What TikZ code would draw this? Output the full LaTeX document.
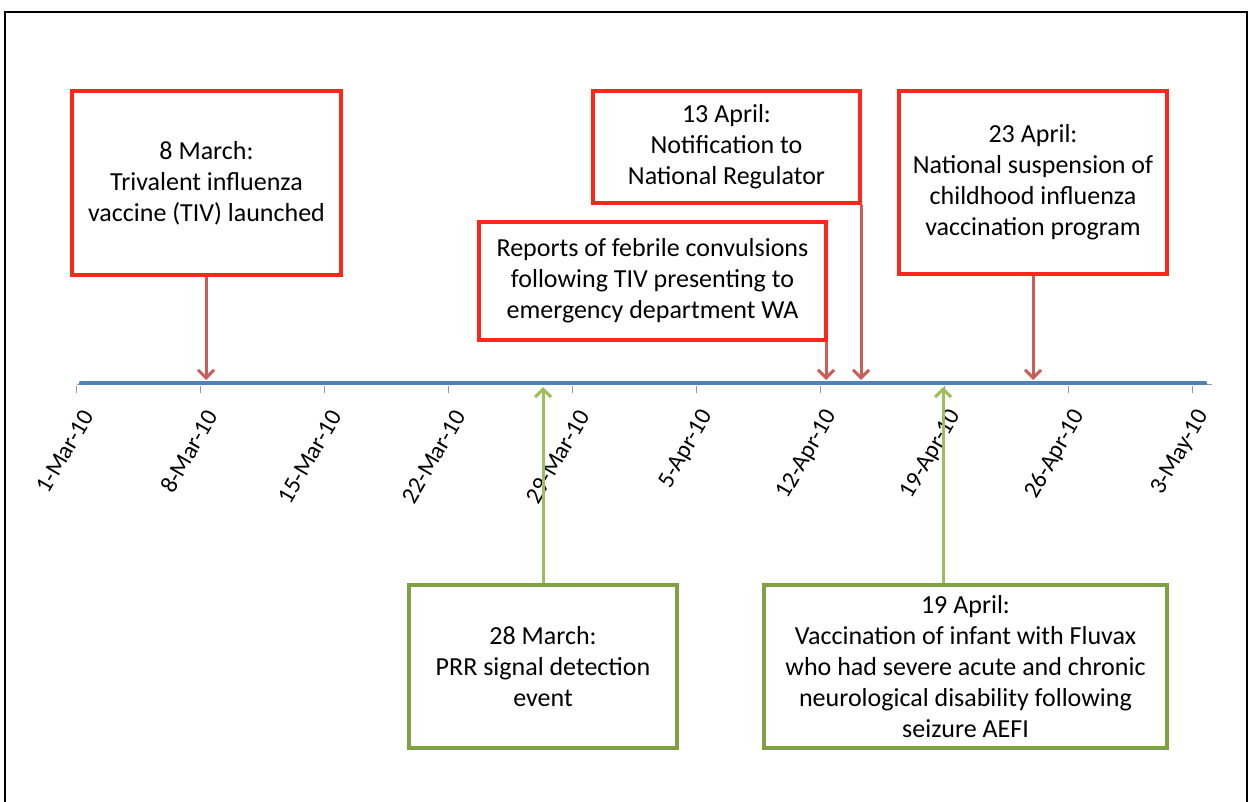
\documentclass[tikz,border=0pt]{standalone}
\usepackage{fontspec}
\setmainfont{Carlito}
\usetikzlibrary{arrows.meta}
\definecolor{boxred}{RGB}{255,38,28}
\definecolor{arrred}{RGB}{204,92,88}
\definecolor{boxgreen}{RGB}{128,160,68}
\definecolor{arrgreen}{RGB}{158,190,92}
\definecolor{axisblue}{RGB}{79,129,189}
\definecolor{tickgray}{RGB}{150,150,150}
\begin{document}
\begin{tikzpicture}[x=1pt,y=-1pt,
  evbox/.style={line width=4pt, align=center, inner sep=2pt, fill=white,
    font=\fontsize{26}{31}\selectfont},
  redbox/.style={evbox, draw=boxred},
  greenbox/.style={evbox, draw=boxgreen},
  redarr/.style={draw=arrred, line width=3pt, -{Straight Barb[length=8pt,width=16pt]}},
  greenarr/.style={draw=arrgreen, line width=3pt, -{Straight Barb[length=8pt,width=16pt]}},
  ticklabel/.style={rotate=60, anchor=east, inner sep=0pt, font=\fontsize{24}{28}\selectfont},
  tickmark/.style={draw=tickgray, line width=1.2pt}
]
\useasboundingbox (0,0) rectangle (1252,802);
\fill[white] (0,0) rectangle (1252,802);
% frame
\draw[line width=2.5pt, black] (5,802) -- (5,12) -- (1247,12) -- (1247,802);

% axis
\coordinate (axL) at (77,384);
\coordinate (axR) at (1212,384);
\draw[tickgray, line width=1pt] (axL) -- (axR);
\draw[axisblue, line width=4.5pt, line cap=round] (81,383) -- (1205,383);
\foreach \i/\lab in {0/1-Mar-10,1/8-Mar-10,2/15-Mar-10,3/22-Mar-10,4/29-Mar-10,5/5-Apr-10,6/12-Apr-10,7/19-Apr-10,8/26-Apr-10,9/3-May-10}{
  \coordinate (tk\i) at ({76.7+124*\i},385.5);
  \draw[tickmark] (tk\i) -- ++(0,7);
  \node[ticklabel] (tl\i) at ({76.7+124*\i+11},412) {\lab};
}

% boxes
\node[redbox, minimum width=269pt, minimum height=184pt] (b8) at (206.5,183) {8 March:\\Trivalent influenza\\vaccine (TIV) launched};
\node[redbox, minimum width=267pt, minimum height=112pt] (b13) at (726.5,147) {13 April:\\Notification to\\National Regulator};
\node[redbox, minimum width=347pt, minimum height=118pt] (brep) at (652.5,281) {Reports of febrile convulsions\\following TIV presenting to\\emergency department WA};
\node[redbox, minimum width=268pt, minimum height=183pt] (b23) at (1033,182.5) {23 April:\\National suspension of\\childhood influenza\\vaccination program};
\node[greenbox, minimum width=268pt, minimum height=163pt] (b28) at (543,666.5) {28 March:\\PRR signal detection\\event};
\node[greenbox, minimum width=403pt, minimum height=163pt] (b19) at (965.5,666.5) {19 April:\\Vaccination of infant with Fluvax\\who had severe acute and chronic\\neurological disability following\\seizure AEFI};

% arrow tips on the axis
\coordinate (p8) at (206,380);
\coordinate (p13) at (861,380);
\coordinate (p12) at (826,380);
\coordinate (p23) at (1033,380);
\coordinate (p28) at (543,387);
\coordinate (p19) at (943,387);

\draw[redarr] (p8 |- b8.south) -- (p8);
\draw[redarr] (p13 |- b13.south east) -- (p13);
\draw[redarr] (p12 |- brep.south) -- (p12);
\draw[redarr] (p23 |- b23.south) -- (p23);
\draw[greenarr] (p28 |- b28.north) -- (p28);
\draw[greenarr] (p19 |- b19.north) -- (p19);
\end{tikzpicture}
\end{document}
